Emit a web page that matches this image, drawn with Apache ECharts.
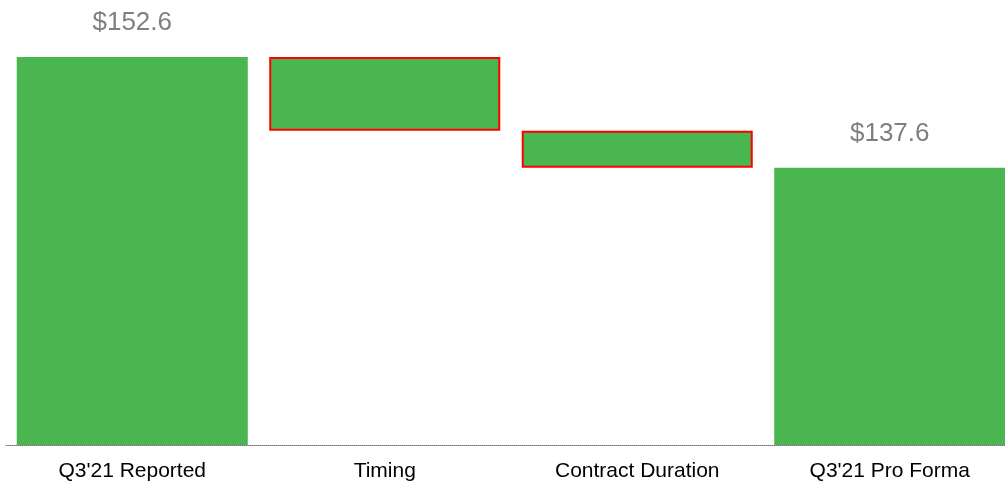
<!DOCTYPE html>
<html>
<head>
<meta charset="utf-8">
<script src="https://cdn.jsdelivr.net/npm/echarts@6/dist/echarts.min.js"></script>
<style>
  html, body { margin: 0; padding: 0; background: #ffffff; overflow: hidden; }
  #wrap { width: 1005px; height: 483px; overflow: hidden; }
  #chart { width: 1016px; height: 483px; }
</style>
</head>
<body>
<div id="wrap"><div id="chart"></div></div>
<script>
// Revenue bridge, $M
const categories = ["Q3'21 Reported", "Timing", "Contract Duration", "Q3'21 Pro Forma"];
const changes = [152.6, -10, -5, 137.6];
const isTotal = [true, false, false, true];

// Build the invisible offsets and visible heights for the waterfall
const baseData = [];
const barData = [];
let running = 0;
changes.forEach(function (v, i) {
  if (isTotal[i]) {
    running = v;
    baseData.push(0);
    barData.push({ value: v, itemStyle: { borderWidth: 0 }, label: { show: true } });
  } else {
    const next = running + v;
    const low = Math.min(running, next);
    baseData.push(low);
    barData.push({
      value: Math.abs(v),
      itemStyle: { borderColor: '#ff0000', borderWidth: 2 },
      label: { show: false }
    });
    running = next;
  }
});

const chart = echarts.init(document.getElementById('chart'), null, { renderer: 'canvas' });
chart.setOption({
  animation: false,
  grid: { left: 6, top: 57, right: 0, bottom: 38, containLabel: false },
  xAxis: {
    type: 'category',
    data: categories,
    axisLine: { show: true, lineStyle: { color: '#707070', type: 'dotted', width: 1 } },
    axisTick: { show: false },
    axisLabel: {
      color: '#000000',
      fontFamily: 'Liberation Sans, Arial, sans-serif',
      fontSize: 21,
      margin: 16
    }
  },
  yAxis: {
    type: 'value',
    min: 100,
    max: 152.6,
    show: false,
    splitLine: { show: false }
  },
  series: [
    {
      type: 'bar',
      stack: 'bridge',
      data: baseData,
      itemStyle: { color: 'transparent' },
      barCategoryGap: '8.5%',
      silent: true
    },
    {
      type: 'bar',
      stack: 'bridge',
      data: barData,
      barCategoryGap: '8.5%',
      itemStyle: { color: '#49b64f' },
      label: {
        position: 'top',
        distance: 21,
        color: '#7f7f7f',
        fontFamily: 'Liberation Sans, Arial, sans-serif',
        fontSize: 26,
        formatter: function (p) { return '$' + p.value.toFixed(1); }
      }
    }
  ]
});
</script>
</body>
</html>
